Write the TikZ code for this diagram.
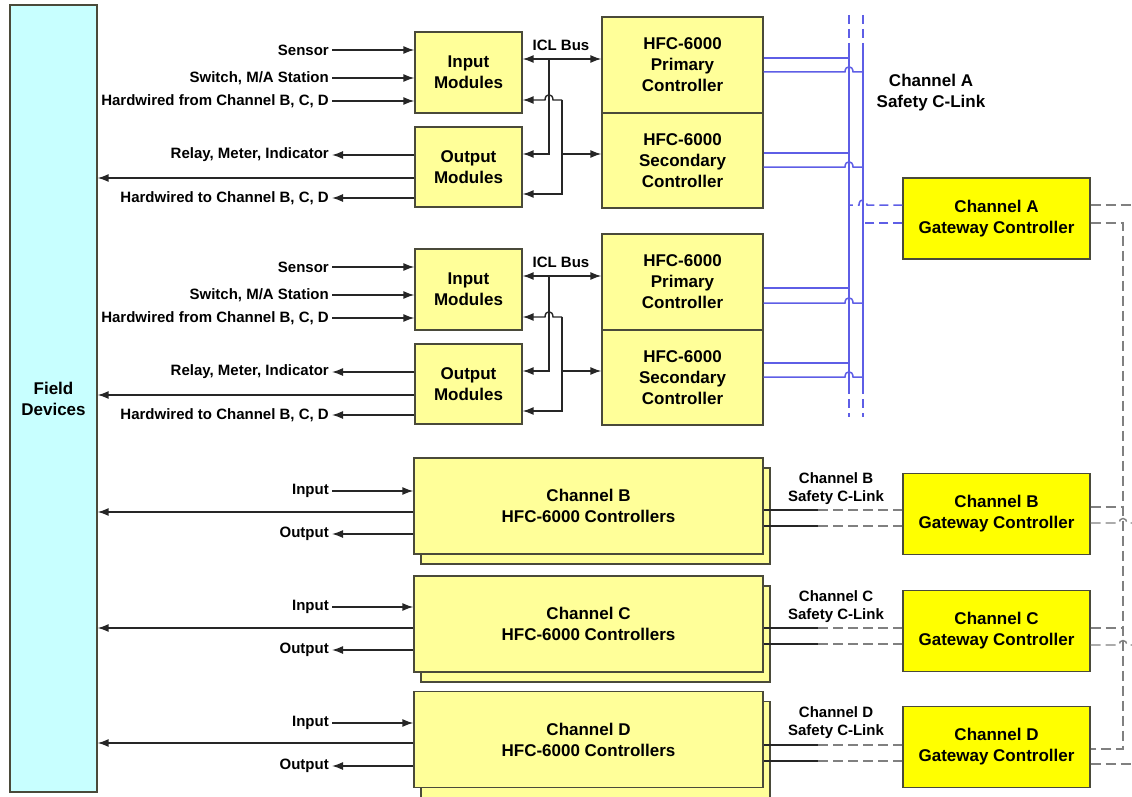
\documentclass[tikz,border=0pt]{standalone}
\usepackage{fontspec}
\setmainfont{Liberation Sans}
\usetikzlibrary{arrows.meta}

\definecolor{boxyel}{HTML}{FFFF99}
\definecolor{gwyel}{HTML}{FFFF00}
\definecolor{fdcyan}{HTML}{C8FFFF}
\definecolor{boxline}{HTML}{4A4A3A}
\definecolor{linkblue}{HTML}{5E5EE6}
\definecolor{linkgray}{HTML}{808080}

\tikzset{
  box/.style={draw=boxline,fill=boxyel,line width=1.3pt,inner sep=0pt,align=center,
    font=\bfseries\fontsize{17}{21}\selectfont},
  gwbox/.style={box,fill=gwyel},
  sig/.style={font=\bfseries\fontsize{15}{18}\selectfont,align=center,inner sep=3pt},
  wire/.style={line width=1.4pt,draw=black!85},
  arr/.style={wire,-{Latex[length=11pt,width=8pt]}},
  darr/.style={wire,{Latex[length=11pt,width=8pt]}-{Latex[length=11pt,width=8pt]}},
  blink/.style={line width=1.5pt,draw=linkblue},
  bdash/.style={blink,dash pattern=on 9pt off 5pt},
  glink/.style={line width=1.4pt,draw=linkgray,dash pattern=on 10pt off 5pt},
}

\begin{document}
\begin{tikzpicture}[x=1pt,y=-1pt]
\useasboundingbox (0,0) rectangle (1132,797);

\node[box,fill=fdcyan,minimum width=87pt,minimum height=787pt] (fd) at (53.5,398.5) {Field\\Devices};

% channel A, primary and secondary racks
\foreach \g/\dy/\pa/\pb/\sa/\sb in {1/0/58/72/153/167,2/217/288/303/363/377}{
  \node[box,minimum width=107pt,minimum height=81pt] (in\g) at (468.5,72.5+\dy) {Input\\Modules};
  \node[box,minimum width=107pt,minimum height=80pt] (out\g) at (468.5,167+\dy) {Output\\Modules};
  \node[box,minimum width=161pt,minimum height=96pt] (pri\g) at (682.5,65+\dy) {HFC-6000\\Primary\\Controller};
  \node[box,minimum width=161pt,minimum height=95pt] (sec\g) at (682.5,160.5+\dy) {HFC-6000\\Secondary\\Controller};
  \node[sig] (icl\g) at (561,45+\dy) {ICL Bus};

  \node[sig,anchor=east] (sens\g) at (332,50+\dy) {Sensor};
  \node[sig,anchor=east] (sw\g) at (332,78+\dy) {Switch, M/A Station};
  \node[sig,anchor=east] (hwin\g) at (332,101+\dy) {Hardwired from Channel B, C, D};
  \node[sig,anchor=east] (rel\g) at (332,155+\dy) {Relay, Meter, Indicator};
  \node[sig,anchor=east] (hwout\g) at (332,198+\dy) {Hardwired to Channel B, C, D};
  \coordinate (fy\g) at (0,178+\dy);

  \draw[arr] (sens\g.east) -- (sens\g.east -| in\g.west);
  \draw[arr] (sw\g.east) -- (sw\g.east -| in\g.west);
  \draw[arr] (hwin\g.east) -- (hwin\g.east -| in\g.west);
  \draw[arr] (rel\g.east -| out\g.west) -- (rel\g.east);
  \draw[arr] (hwout\g.east -| out\g.west) -- (hwout\g.east);
  \draw[arr] (fy\g -| out\g.west) -- (fy\g -| fd.east);

  % ICL bus
  \coordinate (ba\g) at (549,59+\dy);
  \coordinate (bam\g) at (549,154+\dy);
  \coordinate (bb\g) at (562,100+\dy);
  \coordinate (bbm\g) at (562,154+\dy);
  \coordinate (bbl\g) at (562,194+\dy);
  \draw[darr] (ba\g -| in\g.east) -- (ba\g -| pri\g.west);
  \draw[arr] (ba\g) -- (bam\g) -- (bam\g -| out\g.east);
  \draw[arr] (bb\g) -- (553,100+\dy) .. controls (553,93+\dy) and (545,93+\dy) .. (545,100+\dy) -- (bb\g -| in\g.east);
  \draw[arr] (bb\g) -- (bbl\g) -- (bbl\g -| out\g.east);
  \draw[arr] (bbm\g) -- (bbm\g -| sec\g.west);

  % safety c-link taps
  \coordinate (pa\g) at (849,\pa);
  \coordinate (pb\g) at (863,\pb);
  \coordinate (sa\g) at (849,\sa);
  \coordinate (sb\g) at (863,\sb);
  \draw[blink] (pa\g -| pri\g.east) -- (pa\g);
  \draw[blink] (pb\g -| pri\g.east) -- (845,\pb) .. controls (845,\pb-7) and (853,\pb-7) .. (853,\pb) -- (pb\g);
  \draw[blink] (sa\g -| sec\g.east) -- (sa\g);
  \draw[blink] (sb\g -| sec\g.east) -- (845,\sb) .. controls (845,\sb-7) and (853,\sb-7) .. (853,\sb) -- (sb\g);
}

% channel A safety c-link
\draw[bdash] (849,15) -- (849,52);
\draw[blink] (849,52) -- (849,385);
\draw[bdash] (849,385) -- (849,417);
\draw[bdash] (863,15) -- (863,52);
\draw[blink] (863,52) -- (863,385);
\draw[bdash] (863,385) -- (863,417);
\node[box,draw=none,fill=none] (cla) at (931,93) {Channel A\\Safety C-Link};

% gateways
\node[gwbox,minimum width=187pt,minimum height=81pt] (gwA) at (996.5,218.5) {Channel A\\Gateway Controller};
\node[gwbox,minimum width=187pt,minimum height=81pt] (gwB) at (996.5,514) {Channel B\\Gateway Controller};
\node[gwbox,minimum width=187pt,minimum height=81pt] (gwC) at (996.5,631) {Channel C\\Gateway Controller};
\node[gwbox,minimum width=187pt,minimum height=81pt] (gwD) at (996.5,747) {Channel D\\Gateway Controller};

\coordinate (ga) at (849,205);
\coordinate (gb) at (863,223);
\draw[bdash] (ga -| gwA.west) -- (867,205) .. controls (867,198) and (859,198) .. (859,205) -- (ga);
\draw[bdash] (gb -| gwA.west) -- (gb);

% gateway network
\coordinate (nv) at (1123,223);
\coordinate (nvb) at (1123,749);
\coordinate (rim) at (1132,0);
\draw[glink] (gwA.east |- ga) -- (ga -| rim);
\draw[glink] (gwA.east |- nv) -- (nv) -- (nvb) -- (nvb -| gwD.east);
\draw[glink] (gwD.east |- 0,764) -- (1132,764);
\foreach \c/\ya/\yb in {B/507/523,C/628/645}{
  \coordinate (na\c) at (1123,\ya);
  \draw[glink] (gw\c.east |- na\c) -- (na\c);
  \draw[glink] (gw\c.east |- 0,\yb) -- (1119,\yb) .. controls (1119,\yb-6) and (1127,\yb-6) .. (1127,\yb) -- (1132,\yb);
}

% channels B, C, D
\foreach \c/\cy/\iy/\fy/\oy/\la/\lb/\ly in {B/506/491/512/534/510/526/489,C/624/607/628/650/628/644/607,D/739.5/723/743/766/745/761/723}{
  \node[box,minimum width=349pt,minimum height=96pt] (bk\c) at (595.5,\cy+10) {};
  \node[box,minimum width=349pt,minimum height=96pt] (ctl\c) at (588.5,\cy) {Channel \c\\HFC-6000 Controllers};
  \node[sig,anchor=east] (inp\c) at (332,\iy) {Input};
  \node[sig,anchor=east] (outp\c) at (332,\oy) {Output};
  \coordinate (fy\c) at (0,\fy);
  \draw[arr] (inp\c.east) -- (inp\c.east -| ctl\c.west);
  \draw[arr] (outp\c.east -| ctl\c.west) -- (outp\c.east);
  \draw[arr] (fy\c -| ctl\c.west) -- (fy\c -| fd.east);

  \coordinate (la\c) at (818,\la);
  \coordinate (lb\c) at (818,\lb);
  \draw[wire] (la\c -| ctl\c.east) -- (la\c);
  \draw[glink] (la\c) -- (la\c -| gw\c.west);
  \draw[wire] (lb\c -| ctl\c.east) -- (lb\c);
  \draw[glink] (lb\c) -- (lb\c -| gw\c.west);
  \node[sig] (lk\c) at (836,\ly) {Channel \c\\Safety C-Link};
}
\end{tikzpicture}
\end{document}
